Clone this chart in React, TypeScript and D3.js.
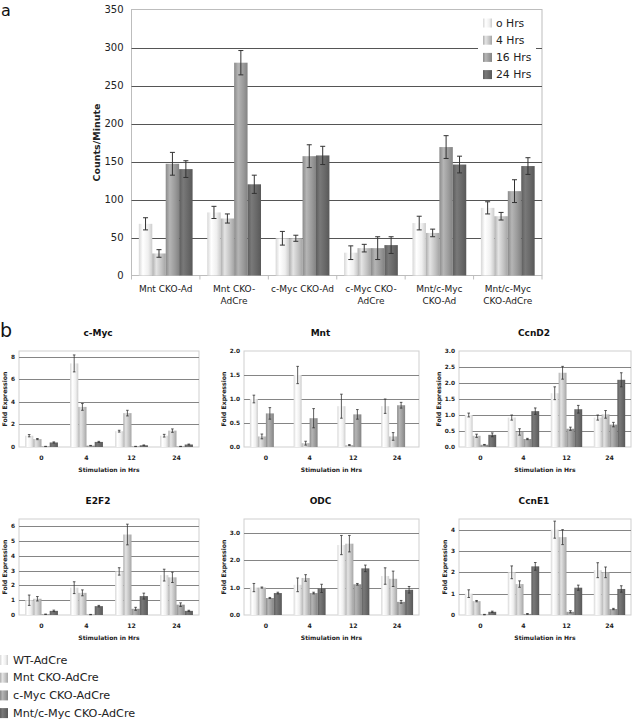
import React from "react";
import * as d3 from "d3";

// ---------- Panel a data ----------
const panelACategories = [
  "Mnt CKO-Ad",
  "Mnt CKO-\nAdCre",
  "c-Myc CKO-Ad",
  "c-Myc CKO-\nAdCre",
  "Mnt/c-Myc\nCKO-Ad",
  "Mnt/c-Myc\nCKO-AdCre",
];
const panelASeries = ["o Hrs", "4 Hrs", "16 Hrs", "24 Hrs"];
const panelAValues0h = [68, 83, 49, 30, 69, 89];
const panelAValues4h = [29, 75, 49, 36, 56, 78];
const panelAValues16h = [147, 280, 157, 36, 169, 111];
const panelAValues24h = [140, 120, 158, 40, 146, 144];
const panelAErr0h = [8, 8, 9, 9, 9, 8];
const panelAErr4h = [5, 6, 4, 5, 5, 5];
const panelAErr16h = [15, 16, 15, 15, 15, 15];
const panelAErr24h = [11, 12, 12, 11, 11, 11];
const panelATicks = [0, 50, 100, 150, 200, 250, 300, 350];

// ---------- Panel b data ----------
const timepoints = ["0", "4", "12", "24"];
const genotypes = ["WT-AdCre", "Mnt CKO-AdCre", "c-Myc CKO-AdCre", "Mnt/c-Myc CKO-AdCre"];

const cMycValues = [[1.0, 7.4, 1.4, 1.0], [0.7, 3.55, 3.0, 1.45], [0.05, 0.12, 0.05, 0.05], [0.4, 0.45, 0.15, 0.22]];
const cMycErrors = [[0.1, 0.75, 0.08, 0.12], [0.05, 0.3, 0.25, 0.15], [0.01, 0.02, 0.01, 0.01], [0.05, 0.05, 0.03, 0.04]];
const mntValues = [[1.0, 1.5, 0.85, 0.85], [0.22, 0.08, 0.04, 0.22], [0.7, 0.6, 0.68, 0.87], [0, 0, 0, 0]];
const mntErrors = [[0.08, 0.18, 0.25, 0.15], [0.05, 0.04, 0.01, 0.08], [0.12, 0.2, 0.1, 0.06], [0, 0, 0, 0]];
const ccnD2Values = [[1.0, 0.92, 1.68, 0.92], [0.35, 0.47, 2.32, 1.02], [0.07, 0.25, 0.57, 0.7], [0.38, 1.12, 1.18, 2.1]];
const ccnD2Errors = [[0.06, 0.08, 0.2, 0.08], [0.05, 0.1, 0.2, 0.12], [0.01, 0.02, 0.05, 0.07], [0.06, 0.1, 0.12, 0.22]];
const e2f2Values = [[1.0, 1.85, 2.95, 2.7], [1.1, 1.5, 5.45, 2.55], [0.05, 0.03, 0.42, 0.7], [0.28, 0.6, 1.28, 0.28]];
const e2f2Errors = [[0.35, 0.4, 0.25, 0.4], [0.15, 0.2, 0.7, 0.35], [0.01, 0.01, 0.1, 0.12], [0.05, 0.05, 0.2, 0.04]];
const odcValues = [[1.0, 1.1, 2.55, 1.42], [1.0, 1.35, 2.6, 1.32], [0.62, 0.8, 1.12, 0.48], [0.8, 0.97, 1.7, 0.92]];
const odcErrors = [[0.15, 0.25, 0.35, 0.3], [0.02, 0.12, 0.3, 0.28], [0.02, 0.03, 0.03, 0.05], [0.03, 0.15, 0.12, 0.12]];
const ccnE1Values = [[1.0, 2.0, 4.0, 2.1], [0.65, 1.45, 3.65, 2.0], [0.02, 0.05, 0.15, 0.28], [0.15, 2.28, 1.28, 1.22]];
const ccnE1Errors = [[0.18, 0.3, 0.4, 0.35], [0.03, 0.15, 0.35, 0.25], [0.01, 0.02, 0.05, 0.03], [0.03, 0.18, 0.12, 0.15]];

const geneNames = ["c-Myc", "Mnt", "CcnD2", "E2F2", "ODC", "CcnE1"];
const geneAxisMax = [8.5, 2.0, 3.0, 6.5, 3.5, 4.5];
const geneTicks = [
  [0, 2, 4, 6, 8],
  [0, 0.5, 1.0, 1.5, 2.0],
  [0, 0.5, 1.0, 1.5, 2.0, 2.5, 3.0],
  [0, 1, 2, 3, 4, 5, 6],
  [0, 1, 2, 3],
  [0, 1, 2, 3, 4],
];
const geneTickFormats = ["d", ".1f", ".1f", "d", ".1f", "d"];

// ---------- styling ----------
const barColors = ["#efefef", "#c2c2c2", "#9a9a9a", "#676767"];
const FONT = "'DejaVu Sans', Verdana, sans-serif";

const geneValues = [cMycValues, mntValues, ccnD2Values, e2f2Values, odcValues, ccnE1Values];
const geneErrors = [cMycErrors, mntErrors, ccnD2Errors, e2f2Errors, odcErrors, ccnE1Errors];

const cols = [
  [19, 199],
  [244, 419],
  [459, 631],
];
const rows = [
  [351, 447],
  [519, 615],
];

function Gradients() {
  return (
    <defs>
      {barColors.map((c, i) => {
        const base = d3.color(c)!;
        return (
          <linearGradient key={i} id={`bg${i}`} x1="0" x2="1" y1="0" y2="0">
            <stop offset="0" stopColor={base.darker(0.3).formatHex()} />
            <stop offset="0.3" stopColor={base.brighter(0.45).formatHex()} />
            <stop offset="0.7" stopColor={base.formatHex()} />
            <stop offset="1" stopColor={base.darker(0.45).formatHex()} />
          </linearGradient>
        );
      })}
    </defs>
  );
}

function PanelA() {
  const left = 131.5,
    right = 542,
    top = 9.5,
    bottom = 275.5;
  const x0 = d3.scaleBand().domain(panelACategories).range([left, right]);
  const x1 = d3.scaleBand().domain(panelASeries).range([0, x0.bandwidth()]).paddingOuter(0.545);
  const y = d3.scaleLinear().domain([0, 350]).range([bottom, top]);
  const values = [panelAValues0h, panelAValues4h, panelAValues16h, panelAValues24h];
  const errors = [panelAErr0h, panelAErr4h, panelAErr16h, panelAErr24h];
  return (
    <g>
      <rect x={left} y={top} width={right - left} height={bottom - top} fill="#fff" stroke="#bdbdbd" strokeWidth={1} />
      {panelATicks
        .filter((t) => t > 0 && t < 350)
        .map((t) => (
          <line key={t} x1={left} x2={right} y1={Math.round(y(t)) + 0.5} y2={Math.round(y(t)) + 0.5} stroke="#555" strokeWidth={1} />
        ))}
      {panelATicks.map((t) => (
        <text key={t} x={left - 8} y={y(t)} textAnchor="end" dominantBaseline="central" fontSize={10} fontFamily={FONT} fill="#222">
          {t}
        </text>
      ))}
      {panelACategories.map((c) => (
        <line key={c} x1={x0(c)!} x2={x0(c)!} y1={bottom} y2={bottom + 4} stroke="#bdbdbd" />
      ))}
      <line x1={right} x2={right} y1={bottom} y2={bottom + 4} stroke="#bdbdbd" />
      {panelASeries.map((s, si) =>
        panelACategories.map((c, ci) => {
          const v = values[si][ci];
          const bx = x0(c)! + x1(s)!;
          return (
            <rect key={s + c} x={bx} y={y(v)} width={x1.bandwidth()} height={y(0) - y(v)} fill={`url(#bg${si})`} />
          );
        })
      )}
      {panelASeries.map((s, si) =>
        panelACategories.map((c, ci) => {
          const v = values[si][ci];
          const e = errors[si][ci];
          const cx = x0(c)! + x1(s)! + x1.bandwidth() / 2;
          return (
            <g key={"e" + s + c} stroke="#333" strokeWidth={1}>
              <line x1={cx} x2={cx} y1={y(v + e)} y2={y(v - e)} />
              <line x1={cx - 2.5} x2={cx + 2.5} y1={y(v + e)} y2={y(v + e)} />
              <line x1={cx - 2.5} x2={cx + 2.5} y1={y(v - e)} y2={y(v - e)} />
            </g>
          );
        })
      )}
      {panelACategories.map((c) => {
        const lines = c.split("\n");
        return (
          <text key={"l" + c} x={x0(c)! + x0.bandwidth() / 2} textAnchor="middle" fontSize={9} fontFamily={FONT} fill="#222">
            {lines.map((ln, li) => (
              <tspan key={li} x={x0(c)! + x0.bandwidth() / 2} y={292 + li * 11.5}>
                {ln}
              </tspan>
            ))}
          </text>
        );
      })}
      <text
        transform={`translate(96,${(top + bottom) / 2}) rotate(-90)`}
        textAnchor="middle"
        dominantBaseline="central"
        fontSize={9.5}
        fontWeight="bold"
        fontFamily={FONT}
        fill="#222"
      >
        Counts/Minute
      </text>
      <rect x={478} y={12} width={58} height={70} fill="#fff" />
      {panelASeries.map((s, i) => (
        <g key={"lg" + s}>
          <rect x={483} y={23 + i * 17.2 - 4.5} width={9} height={9} fill={`url(#bg${i})`} />
          <text x={496} y={23 + i * 17.2} dominantBaseline="central" fontSize={10.8} fontFamily={FONT} fill="#222">
            {s}
          </text>
        </g>
      ))}
    </g>
  );
}

function SmallChart({ gi }: { gi: number }) {
  const [left, right] = cols[gi % 3];
  const [top, bottom] = rows[Math.floor(gi / 3)];
  const max = geneAxisMax[gi];
  const ticks = geneTicks[gi];
  const fmt = d3.format(geneTickFormats[gi]);
  const values = geneValues[gi];
  const errors = geneErrors[gi];
  const x0 = d3.scaleBand().domain(timepoints).range([left, right]);
  const x1 = d3.scaleBand().domain(genotypes).range([0, x0.bandwidth()]).paddingOuter(0.74);
  const y = d3.scaleLinear().domain([0, max]).range([bottom, top]);
  const decimals = geneTickFormats[gi] !== "d";
  const cx = (left + right) / 2;
  return (
    <g>
      <rect x={left} y={top} width={right - left} height={bottom - top} fill="#fff" stroke="#cfcfcf" strokeWidth={1} />
      {ticks
        .filter((t) => t > 0 && y(t) > top + 1)
        .map((t) => (
          <line key={t} x1={left} x2={right} y1={Math.round(y(t)) + 0.5} y2={Math.round(y(t)) + 0.5} stroke="#858585" strokeWidth={1} />
        ))}
      {ticks.map((t) => (
        <text key={"t" + t} x={left - 4} y={y(t)} textAnchor="end" dominantBaseline="central" fontSize={5.8} fontWeight="bold" fontFamily={FONT} fill="#222">
          {fmt(t)}
        </text>
      ))}
      {genotypes.map((g, si) =>
        timepoints.map((tp, ti) => {
          const v = values[si][ti];
          return (
            <rect key={g + tp} x={x0(tp)! + x1(g)!} y={y(v)} width={x1.bandwidth()} height={y(0) - y(v)} fill={`url(#bg${si})`} />
          );
        })
      )}
      {genotypes.map((g, si) =>
        timepoints.map((tp, ti) => {
          const v = values[si][ti];
          const e = errors[si][ti];
          if (v <= 0) return null;
          const bx = x0(tp)! + x1(g)! + x1.bandwidth() / 2;
          return (
            <g key={"e" + g + tp} stroke="#333" strokeWidth={0.8}>
              <line x1={bx} x2={bx} y1={y(v + e)} y2={y(Math.max(0, v - e))} />
              <line x1={bx - 1.3} x2={bx + 1.3} y1={y(v + e)} y2={y(v + e)} />
              <line x1={bx - 1.3} x2={bx + 1.3} y1={y(Math.max(0, v - e))} y2={y(Math.max(0, v - e))} />
            </g>
          );
        })
      )}
      {timepoints.map((tp) => (
        <text key={"x" + tp} x={x0(tp)! + x0.bandwidth() / 2} y={bottom + 10.5} textAnchor="middle" dominantBaseline="central" fontSize={6.2} fontWeight="bold" fontFamily={FONT} fill="#222">
          {tp}
        </text>
      ))}
      <text x={cx} y={bottom + 22} textAnchor="middle" dominantBaseline="central" fontSize={6} fontWeight="bold" fontFamily={FONT} fill="#222">
        Stimulation in Hrs
      </text>
      <text
        transform={`translate(${left - (decimals ? 21 : 15)},${(top + bottom) / 2}) rotate(-90)`}
        textAnchor="middle"
        dominantBaseline="central"
        fontSize={6.2}
        fontWeight="bold"
        fontFamily={FONT}
        fill="#222"
      >
        Fold Expression
      </text>
      <text x={cx - 11} y={top - 18} textAnchor="middle" dominantBaseline="central" fontSize={9} fontWeight="bold" fontFamily={FONT} fill="#111">
        {geneNames[gi]}
      </text>
    </g>
  );
}

export default function App() {
  return (
    <svg
      width={642}
      height={720}
      viewBox="0 0 642 720"
      style={{ position: "absolute", left: 0, top: 0, background: "#fff" }}
    >
      <Gradients />
      <rect x={0} y={0} width={642} height={720} fill="#fff" />
      <text x={1} y={16} fontSize={16} fontFamily={FONT} fill="#111">
        a
      </text>
      <text x={0} y={337} fontSize={19} fontFamily={FONT} fill="#111">
        b
      </text>
      <PanelA />
      {geneNames.map((g, gi) => (
        <SmallChart key={g} gi={gi} />
      ))}
      {genotypes.map((g, i) => (
        <g key={"bl" + g}>
          <rect x={0} y={660 + i * 17.7 - 5} width={8} height={10} fill={`url(#bg${i})`} />
          <text x={13} y={660 + i * 17.7} dominantBaseline="central" fontSize={11.2} fontFamily={FONT} fill="#222">
            {g}
          </text>
        </g>
      ))}
    </svg>
  );
}
